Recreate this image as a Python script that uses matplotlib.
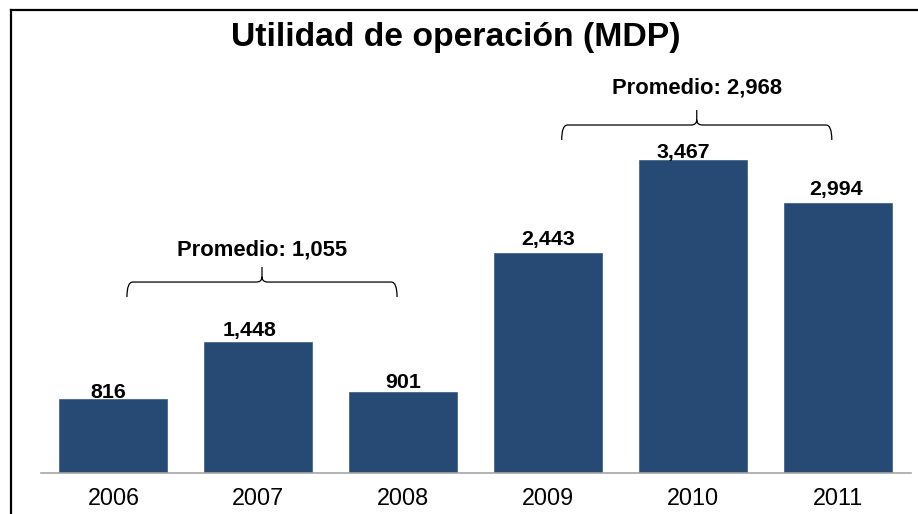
import matplotlib
matplotlib.use("Agg")
import matplotlib.pyplot as plt
from matplotlib.path import Path
from matplotlib.patches import PathPatch
from matplotlib.lines import Line2D

years = ["2006", "2007", "2008", "2009", "2010", "2011"]
values = [816, 1448, 901, 2443, 3467, 2994]
value_labels = ["816", "1,448", "901", "2,443", "3,467", "2,994"]
group_labels = ["Promedio: 1,055", "Promedio: 2,968"]
groups = [(0, 2), (3, 5)]

# small label nudges (pixels) as in the original rendering
label_dx = [-5, -9, 0, 0, -10, -2]
label_gap = [1.5, 6.5, 4, 7.5, 2.7, 8]

plt.rcParams['font.family'] = ['Liberation Sans', 'DejaVu Sans']

W, H = 918, 514
fig = plt.figure(figsize=(W / 100, H / 100), dpi=100)
px = 0.0902  # pixels per data unit
ymax = 4500
ax = fig.add_axes([41 / W, (H - 473) / H, 869.5 / W, ymax * px / H])

bar_color = "#264a73"
x = list(range(len(years)))
ax.bar(x, values, width=0.745, color=bar_color, edgecolor="#3a5a80", linewidth=0.5, zorder=2)
ax.set_xlim(-0.5, len(years) - 0.5)
ax.set_ylim(0, ymax)

for s in ["top", "right", "left"]:
    ax.spines[s].set_visible(False)
ax.spines["bottom"].set_color("#a6a6a6")
ax.spines["bottom"].set_linewidth(1.2)
ax.set_yticks([])
ax.set_xticks(x)
ax.set_xticklabels(years, fontsize=16.8)
ax.tick_params(axis="x", length=0, pad=10)

for xi, v, lab, dx, gy in zip(x, values, value_labels, label_dx, label_gap):
    ax.annotate(lab, (xi, v), xytext=(dx * 0.72, gy * 0.72), textcoords="offset points",
                ha="center", va="baseline", fontsize=15.4, fontweight="bold")

def brace(ax, x0, x1, y, h, r):
    xm = (x0 + x1) / 2
    verts = [
        (x0, y - h), (x0, y), (x0 + r, y),
        (xm - r, y), (xm, y), (xm, y + h * 0.35),
        (xm, y + h),
        (xm, y + h * 0.35), (xm, y), (xm + r, y),
        (x1 - r, y), (x1, y), (x1, y - h),
    ]
    codes = [Path.MOVETO, Path.CURVE3, Path.CURVE3,
             Path.LINETO, Path.CURVE3, Path.CURVE3,
             Path.LINETO,
             Path.MOVETO, Path.CURVE3, Path.CURVE3,
             Path.LINETO, Path.CURVE3, Path.CURVE3]
    patch = PathPatch(Path(verts, codes), facecolor="none", edgecolor="black",
                      linewidth=0.9, clip_on=False)
    ax.add_patch(patch)
    return xm

brace_y = [2117, 3858]
label_y = [2472, 4268]
for (g0, g1), lab, by, ly in zip(groups, group_labels, brace_y, label_y):
    xm = brace(ax, g0 + 0.093, g1 - 0.043, by, 166, 0.04)
    ax.text(xm, ly, lab, ha="center", va="center", fontsize=15.8, fontweight="bold",
            clip_on=False)

fig.text(455.5 / W, 1 - 37.5 / H, "Utilidad de operación (MDP)", ha="center", va="center",
         fontsize=24.3, fontweight="bold")

# outer frame (left and top edges visible)
fig.add_artist(Line2D([10.5 / W, 10.5 / W], [0, 1 - 9.5 / H], transform=fig.transFigure,
                      color="black", linewidth=1.6))
fig.add_artist(Line2D([10.5 / W, 1], [1 - 9.5 / H, 1 - 9.5 / H], transform=fig.transFigure,
                      color="black", linewidth=1.6))

fig.savefig("out.png", dpi=100)
